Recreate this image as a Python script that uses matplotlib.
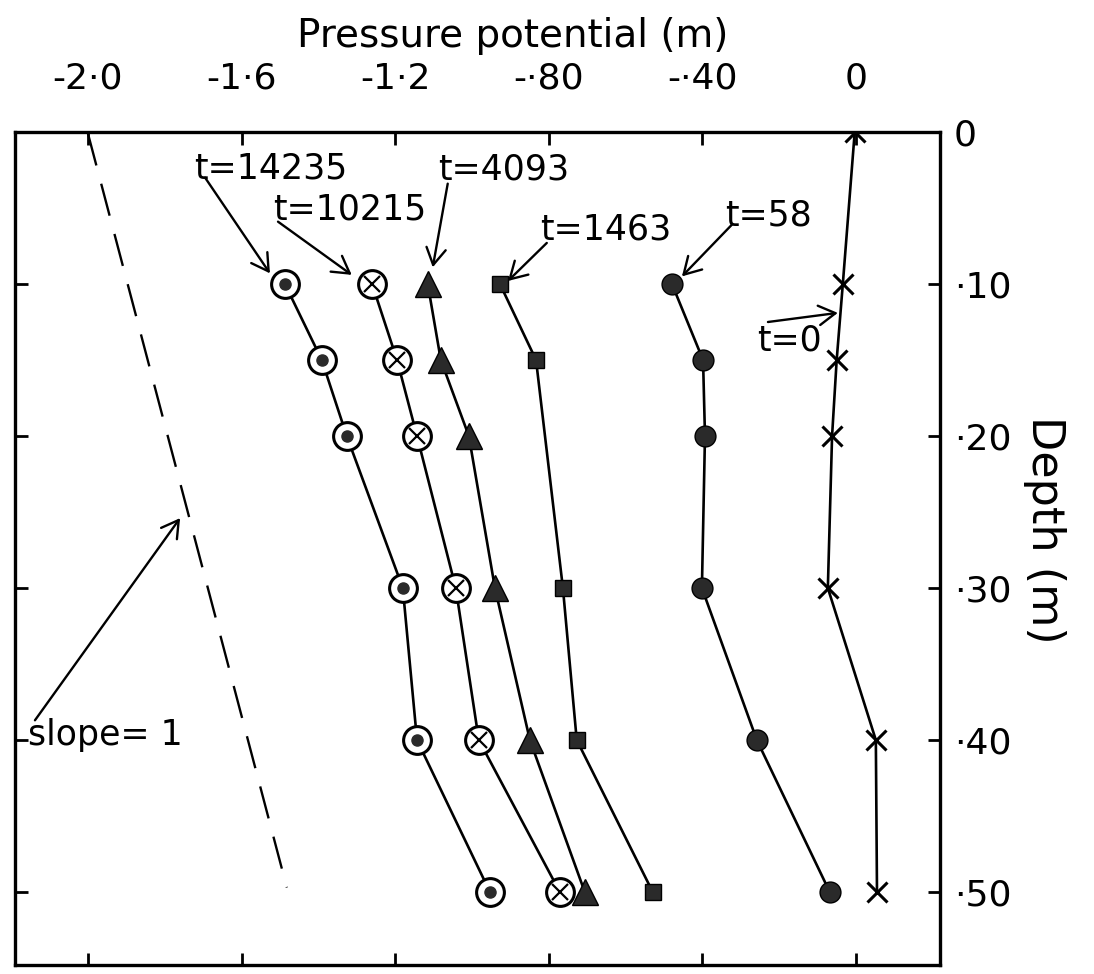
import matplotlib
matplotlib.use("Agg")
import matplotlib.pyplot as plt

# ---- data ----
x_ticks = [-2.0, -1.6, -1.2, -0.8, -0.4, 0.0]
x_ticklabels = ["-2·0", "-1·6", "-1·2", "-·80", "-·40", "0"]
y_ticks = [0, 10, 20, 30, 40, 50]
y_ticklabels = ["0", "·10", "·20", "·30", "·40", "·50"]

depth_t0 = [0, 10, 15, 20, 30, 40, 50]
p_t0 = [-0.003, -0.034, -0.050, -0.062, -0.073, 0.052, 0.055]

depth_t58 = [10, 15, 20, 30, 40, 50]
p_t58 = [-0.479, -0.398, -0.393, -0.401, -0.258, -0.068]

depth_t1463 = [10, 15, 30, 40, 50]
p_t1463 = [-0.927, -0.833, -0.763, -0.727, -0.529]

depth_t4093 = [10, 15, 20, 30, 40, 50]
p_t4093 = [-1.115, -1.081, -1.008, -0.940, -0.849, -0.706]

depth_t10215 = [10, 15, 20, 30, 40, 50]
p_t10215 = [-1.260, -1.195, -1.143, -1.042, -0.982, -0.771]

depth_t14235 = [10, 15, 20, 30, 40, 50]
p_t14235 = [-1.487, -1.391, -1.326, -1.180, -1.143, -0.953]

slope_p = [-2.0, -1.482]
slope_depth = [0.1, 49.7]

# annotations: label, text position (x, y), arrow start, arrow tip
ann_labels = ["t=14235", "t=10215", "t=4093", "t=1463", "t=58", "t=0", "slope= 1"]
ann_text_xy = [(-1.724, 2.4), (-1.518, 5.1), (-1.089, 2.5), (-0.823, 6.4),
               (-0.341, 5.5), (-0.258, 13.7), (-2.157, 39.7)]
ann_start = [(-1.695, 3.0), (-1.505, 5.9), (-1.063, 3.4), (-0.805, 7.3),
             (-0.323, 6.1), (-0.229, 12.5), (-2.138, 38.7)]
ann_tip = [(-1.526, 9.3), (-1.313, 9.4), (-1.102, 8.9), (-0.906, 9.8),
           (-0.453, 9.5), (-0.047, 11.9), (-1.760, 25.4)]

# ---- figure ----
plt.rcParams['font.family'] = ['DejaVu Sans']
fig = plt.figure(figsize=(10.94, 9.74), dpi=100)
ax = fig.add_axes([0.0137, 0.0092, 0.8455, 0.8553])

ax.set_xlim(-2.19, 0.219)
ax.set_ylim(54.8, 0)

lw = 1.9
# t=0
ax.plot(p_t0, depth_t0, color='k', lw=lw, marker='x', ms=15, mew=2.2)
# t=58
ax.plot(p_t58, depth_t58, color='k', lw=lw, marker='o', ms=15, mfc='#2a2a2a', mec='k')
# t=1463
ax.plot(p_t1463, depth_t1463, color='k', lw=lw, marker='s', ms=11, mfc='#2a2a2a', mec='k')
# t=4093
ax.plot(p_t4093, depth_t4093, color='k', lw=lw, marker='^', ms=19, mfc='#2a2a2a', mec='k')
# t=10215 (circle with cross)
ax.plot(p_t10215, depth_t10215, color='k', lw=lw, marker='o', ms=20, mfc='white', mec='k', mew=2.2)
ax.plot(p_t10215, depth_t10215, ls='none', marker='x', ms=11, mec='k', mew=1.6)
# t=14235 (circle with dot)
ax.plot(p_t14235, depth_t14235, color='k', lw=lw, marker='o', ms=20, mfc='white', mec='k', mew=2.2)
ax.plot(p_t14235, depth_t14235, ls='none', marker='o', ms=8, mfc='#2a2a2a', mec='#2a2a2a')

# slope = 1 dashed line
ax.plot(slope_p, slope_depth, color='k', lw=1.7, dashes=(14, 8))

# annotations
for lab, txy, s, tip in zip(ann_labels, ann_text_xy, ann_start, ann_tip):
    ax.text(txy[0], txy[1], lab, fontsize=25, ha='left', va='center', color='k')
    ax.annotate("", xy=tip, xytext=s,
                arrowprops=dict(arrowstyle='->,head_length=0.6,head_width=0.35',
                                lw=1.7, color='k', shrinkA=0, shrinkB=0,
                                mutation_scale=20))

# axes styling
for sp in ax.spines.values():
    sp.set_linewidth(2.4)

ax.set_xticks(x_ticks)
ax.set_xticklabels(x_ticklabels)
ax.xaxis.tick_top()
ax.tick_params(axis='x', which='both', direction='in', top=True, bottom=True,
               labeltop=True, labelbottom=False, length=9, width=2,
               labelsize=26, pad=26)

ax.set_yticks(y_ticks)
ax.set_yticklabels(y_ticklabels)
ax.yaxis.tick_right()
ax.tick_params(axis='y', which='both', direction='in', left=True, right=True,
               labelright=True, labelleft=False, length=9, width=2,
               labelsize=26, pad=10)

fig.text(0.469, 0.9517, "Pressure potential (m)", fontsize=28, ha='center', va='baseline')
fig.text(0.955, 0.456, "Depth (m)", fontsize=32, ha='center', va='center', rotation=270)

fig.savefig("out.png", dpi=100)
